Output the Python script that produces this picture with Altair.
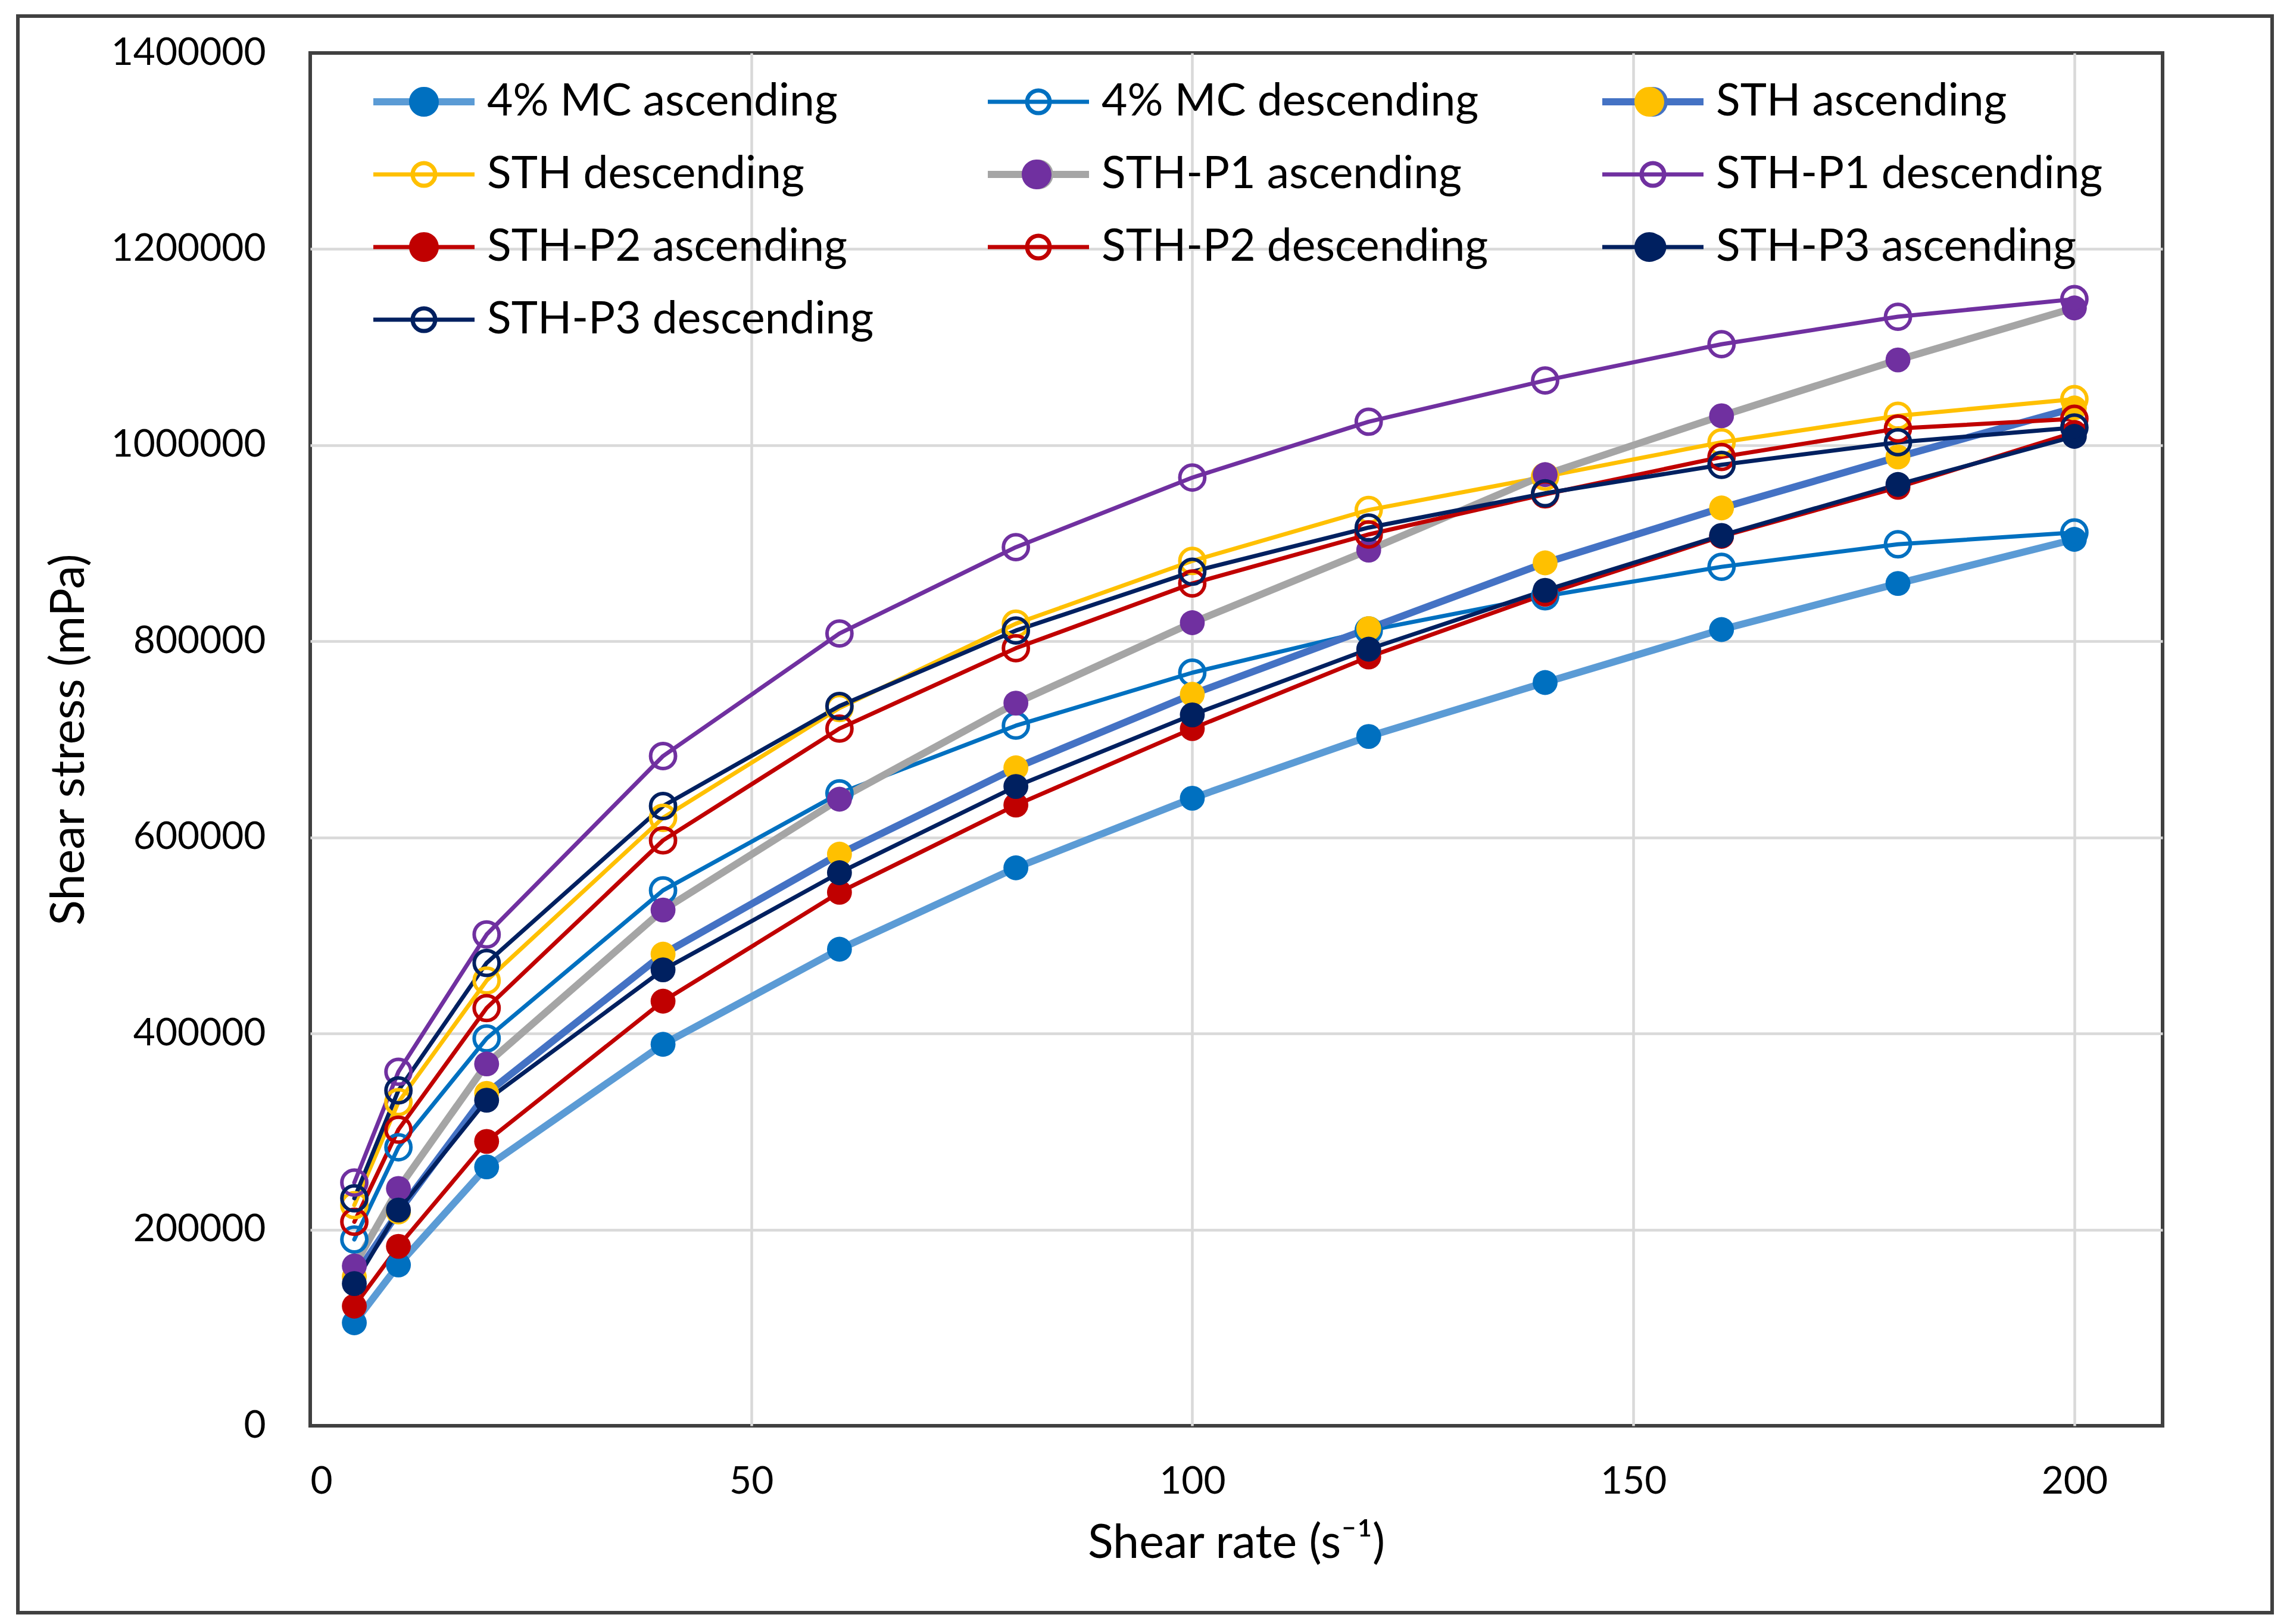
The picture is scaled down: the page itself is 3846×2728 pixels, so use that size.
import altair as alt
import pandas as pd

# ---------------- data ----------------
shear_rate = [5, 10, 20, 40, 60, 80, 100, 120, 140, 160, 180, 200]

series_names = [
    "4% MC ascending", "4% MC descending", "STH ascending",
    "STH descending", "STH-P1 ascending", "STH-P1 descending",
    "STH-P2 ascending", "STH-P2 descending", "STH-P3 ascending",
    "STH-P3 descending",
]

mc_asc = [105000, 164000, 264000, 389000, 486000, 569000, 640000, 703000, 758000, 812000, 859000, 904000]
mc_desc = [190000, 284000, 395000, 546000, 645000, 714000, 768000, 811000, 846000, 876000, 899000, 911000]
sth_asc = [152000, 218000, 339000, 481000, 583000, 671000, 746000, 813000, 880000, 936000, 988000, 1038000]
sth_desc = [225000, 330000, 454000, 620000, 732000, 818000, 882000, 934000, 968000, 1003000, 1030000, 1047000]
p1_asc = [163000, 242000, 369000, 526000, 639000, 737000, 819000, 893000, 970000, 1030000, 1087000, 1140000]
p1_desc = [248000, 361000, 501000, 683000, 808000, 896000, 967000, 1024000, 1066000, 1103000, 1131000, 1149000]
p2_asc = [122000, 183000, 290000, 433000, 544000, 633000, 711000, 784000, 848000, 907000, 957000, 1013000]
p2_desc = [208000, 302000, 426000, 597000, 711000, 793000, 859000, 909000, 950000, 988000, 1017000, 1027000]
p3_asc = [145000, 220000, 332000, 465000, 564000, 652000, 725000, 792000, 852000, 908000, 960000, 1009000]
p3_desc = [232000, 342000, 472000, 632000, 734000, 811000, 871000, 916000, 951000, 980000, 1003000, 1018000]

all_series = [mc_asc, mc_desc, sth_asc, sth_desc, p1_asc, p1_desc, p2_asc, p2_desc, p3_asc, p3_desc]

x_ticks = [0, 50, 100, 150, 200]
y_ticks = [0, 200000, 400000, 600000, 800000, 1000000, 1200000, 1400000]

# ---------------- styles ----------------
line_colors = ["#5B9BD5", "#0070C0", "#4472C4", "#FFC000", "#A5A5A5",
               "#7030A0", "#C00000", "#C00000", "#002060", "#002060"]
marker_fills = ["#0070C0", "transparent", "#FFC000", "transparent", "#7030A0",
                "transparent", "#C00000", "transparent", "#002060", "transparent"]
ring_colors = ["transparent", "#0070C0", "transparent", "#FFC000", "transparent",
               "#7030A0", "transparent", "#C00000", "transparent", "#002060"]
THICK, THIN = 12, 7
line_widths = [THICK, THIN, THICK, THIN, THICK, THIN, THIN, THIN, THIN, THIN]

FONT = "Lato"

rows = []
for name, vals in zip(series_names, all_series):
    for xv, yv in zip(shear_rate, vals):
        rows.append({"series": name, "series_b": name, "rate": xv, "stress": yv})
df = pd.DataFrame(rows)

grid_cond_x = {"condition": {"test": "datum.value == 0", "value": 0}, "value": 1}
grid_cond_y = {"condition": {"test": "datum.value == 0 || datum.value == 1400000", "value": 0}, "value": 1}

x_enc = alt.X(
    "rate:Q",
    scale=alt.Scale(domain=[0, 210], nice=False),
    axis=alt.Axis(
        values=x_ticks, title="Shear rate (s⁻¹)", grid=True, gridColor="#D9D9D9",
        gridWidth=4.5, gridOpacity=grid_cond_x, domain=False, ticks=False,
        labelFontSize=64, labelPadding=62, labelColor="#000000", labelFont=FONT,
        labelLimit=1000,
        titleFontSize=79, titleFont=FONT, titleFontWeight="normal", titleColor="#000000",
        titleX=1555, titleY=197, titleBaseline="middle",
    ),
)
y_enc = alt.Y(
    "stress:Q",
    scale=alt.Scale(domain=[0, 1400000], nice=False),
    axis=alt.Axis(
        values=y_ticks, format="d", title="Shear stress (mPa)", grid=True,
        gridColor="#D9D9D9", gridWidth=4.5, gridOpacity=grid_cond_y, domain=False,
        ticks=False, labelFontSize=64, labelPadding=75, labelColor="#000000",
        labelFont=FONT, labelLimit=1000, titleFontSize=79, titleFont=FONT,
        titleFontWeight="normal", titleColor="#000000", titleX=-405, titleY=1153,
        titleBaseline="middle", titleAngle=270,
    ),
)

# legend symbols: unit space [-1, 1], 170px wide
path_a = ("M-1,0L1,0M-0.2235,0A0.2235,0.2235,0,1,1,0.2235,0"
          "A0.2235,0.2235,0,1,1,-0.2235,0")
path_b = ("M-1,0L1,0M-0.294,0A0.294,0.294,0,1,1,0.294,0"
          "A0.294,0.294,0,1,1,-0.294,0Z")

common_legend = dict(
    title=None, orient="none", legendX=100, legendY=41, columns=3,
    direction="horizontal", gridAlign="all", rowPadding=40,
    clipHeight=82, symbolSize=28900, labelFont=FONT, labelFontSize=75,
    labelColor="#000000", symbolOffset=0, padding=0,
    labelLimit=3000, symbolOpacity=1,
)
# legend of lines + hollow rings (with labels)
legend_a = alt.Legend(symbolType=path_a, symbolFillColor="transparent",
                      columnPadding=185, labelOffset=15, **common_legend)
# legend of solid marker dots drawn over it (no labels)
legend_b = alt.Legend(symbolType=path_b, symbolStrokeWidth=THICK,
                      symbolStrokeColor="transparent", labelExpr="''",
                      columnPadding=847, labelOffset=0, **common_legend)

lines = alt.Chart(df).mark_line(strokeCap="round", strokeJoin="round").encode(
    x=x_enc,
    y=y_enc,
    color=alt.Color("series:N", scale=alt.Scale(domain=series_names, range=line_colors),
                    legend=legend_a),
    strokeWidth=alt.StrokeWidth("series:N",
                                scale=alt.Scale(type="ordinal", domain=series_names, range=line_widths),
                                legend=legend_a),
    order=alt.Order("rate:Q"),
)

points = alt.Chart(df).mark_circle(size=1750, strokeWidth=6, opacity=1).encode(
    x=alt.X("rate:Q"),
    y=alt.Y("stress:Q"),
    fill=alt.Fill("series_b:N", sort=series_names, scale=alt.Scale(range=marker_fills),
                  legend=legend_b),
    stroke=alt.Stroke("series:N", scale=alt.Scale(domain=series_names, range=ring_colors),
                      legend=None),
)

frame = alt.Chart(pd.DataFrame({"frame": [0]})).mark_rect(
    fill="transparent", stroke="#404040", strokeWidth=6
).encode(
    x=alt.value(-491), x2=alt.value(3295), y=alt.value(-62), y2=alt.value(2620)
)

chart = alt.layer(lines, points, frame).properties(
    width=3111, height=2306,
    autosize=alt.AutoSizeParams(type="none"),
    padding={"left": 513, "top": 81, "right": 206, "bottom": 325},
).configure(font=FONT, background="white").configure_view(
    stroke="#404040", strokeWidth=6
)

chart.save("out.html", embed_options={"renderer": "svg", "actions": False})
